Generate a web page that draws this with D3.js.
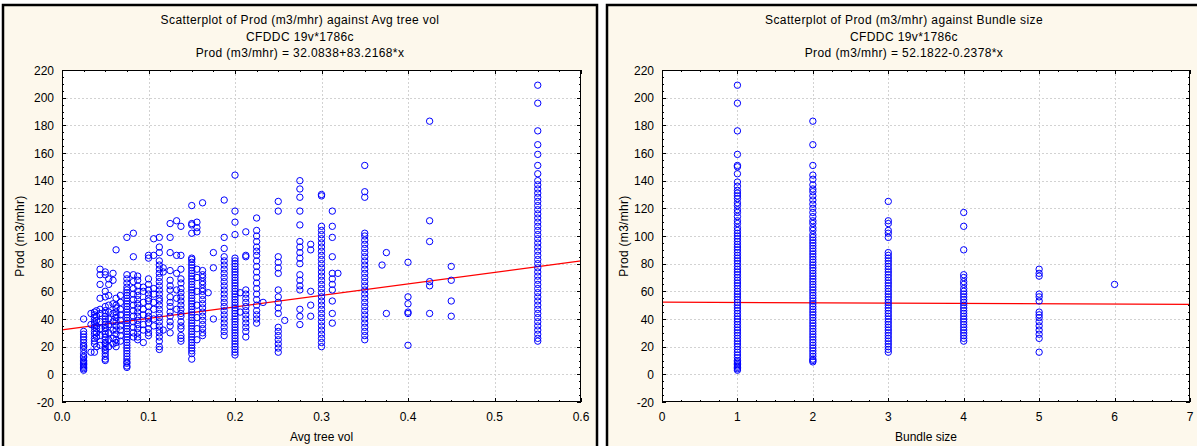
<!DOCTYPE html>
<html>
<head>
<meta charset="utf-8">
<script src="https://cdn.jsdelivr.net/npm/d3@7"></script>
<style>
  body { margin: 0; background: #fff; }
  svg text { font-family: "Liberation Sans", Arial, sans-serif; fill: #000; }
</style>
</head>
<body>
<svg id="chart" width="1197" height="446"></svg>
<script>
// ---------- Data ----------
const titleLines = ['CFDDC 19v*1786c'];
const yLabel = 'Prod (m3/mhr)';
const yTicks = [-20, 0, 20, 40, 60, 80, 100, 120, 140, 160, 180, 200, 220];

// Avg tree vol panel: one column of Prod values for each tree volume
const volX = [0.025, 0.0335, 0.0375, 0.04, 0.044, 0.05, 0.054, 0.059, 0.0625, 0.0675,
  0.075, 0.0825, 0.0875, 0.094, 0.1, 0.106, 0.1125, 0.117, 0.125, 0.1325, 0.1375,
  0.15, 0.156, 0.1625, 0.169, 0.175, 0.1875, 0.2, 0.206, 0.2125, 0.225, 0.2325,
  0.25, 0.2575, 0.275, 0.2875, 0.3, 0.3125, 0.319, 0.35, 0.37, 0.375, 0.4, 0.425, 0.45, 0.55];
const volProd = [
  [40, 31, 29, 27, 25, 23, 21, 20, 18, 15, 13, 12, 10, 9, 8, 7, 6, 5, 4, 3],
  [44, 36, 16],
  [45, 43, 41, 38, 36, 34, 31, 29, 26, 24, 22, 16],
  [46, 42, 39, 35, 33, 30, 27, 20],
  [76, 72, 65, 55, 47, 44, 38, 33, 28, 21],
  [74, 72, 60, 56, 49, 46, 44, 42, 40, 38, 36, 34, 33, 31, 29, 27, 25, 23, 22, 20, 18, 17, 15, 13, 11, 10],
  [69, 65, 57, 50, 45, 40, 36, 30, 25, 20],
  [73, 68, 51, 44, 38, 32, 26, 22],
  [90, 55, 50, 48, 45, 43, 41, 38, 35, 32, 29, 25, 23, 20],
  [57, 52, 47, 43, 39, 35, 32, 28, 24],
  [99, 72, 69, 66, 63, 61, 59, 57, 55, 53, 51, 49, 47, 45, 43, 41, 39, 37, 35, 33, 31, 29, 27, 25, 23, 21, 19, 17, 15, 13, 11, 9, 8, 6, 5],
  [102, 85, 72, 67, 62, 58, 54, 50, 46, 42, 38, 34, 30, 27],
  [71, 68, 64, 60, 57, 54, 51, 48, 45, 42, 39, 36, 33, 30, 27, 25],
  [63, 60, 52, 47, 43, 36, 32, 23],
  [86, 84, 69, 65, 61, 58, 55, 53, 49, 45, 42, 40, 37, 33, 30, 28],
  [98, 86, 62, 58, 52, 47, 40, 35],
  [99, 92, 88, 82, 79, 76, 73, 70, 67, 64, 61, 58, 55, 53, 50, 47, 44, 41, 38, 35, 32, 30, 27, 24, 20, 18],
  [77, 74, 32],
  [109, 99, 88, 75, 68, 64, 61, 56, 52, 49, 45, 42, 38, 35, 30],
  [111, 86, 73, 61, 55, 47],
  [107, 86, 76, 69, 66, 62, 59, 56, 53, 50, 47, 44, 42, 38, 35, 33, 28, 26, 24],
  [122, 109, 108, 102, 84, 83, 81, 79, 77, 75, 73, 71, 69, 67, 65, 63, 61, 59, 57, 55, 53, 51, 49, 47, 45, 43, 41, 39, 37, 35, 33, 31, 29, 27, 25, 23, 21, 19, 17, 15, 11],
  [110, 106, 103, 76, 70, 60, 50, 41, 33, 25],
  [124, 75, 72, 70, 67, 65, 62, 60, 57, 54, 51, 48, 45, 42, 39, 36, 33, 30, 28],
  [59],
  [88, 77, 40],
  [126, 99, 91, 85, 82, 79, 76, 73, 70, 67, 64, 61, 58, 55, 52, 49, 46, 43, 40, 37, 34, 31, 28],
  [144, 118, 110, 101, 84, 82, 80, 78, 76, 74, 72, 70, 68, 66, 64, 62, 60, 58, 56, 54, 52, 50, 48, 46, 44, 42, 40, 38, 36, 34, 32, 30, 28, 26, 24, 22, 20, 18, 16, 14],
  [59, 45],
  [103, 86, 85, 61, 58, 55, 52, 49, 46, 43, 40, 37, 34, 31, 27],
  [113, 104, 100, 96, 92, 89, 86, 82, 78, 74, 70, 66, 62, 58, 54, 50, 46, 43, 40, 37],
  [52],
  [125, 118, 85, 81, 77, 73, 61, 56, 52, 48, 44, 34, 31, 28, 25, 22, 19, 16],
  [39],
  [140, 134, 128, 118, 108, 96, 92, 88, 84, 80, 72, 68, 64, 61, 47, 42, 36],
  [94, 90, 60, 50, 42],
  [130, 129, 107, 104, 101, 98, 95, 92, 89, 86, 83, 80, 77, 74, 71, 68, 65, 62, 59, 56, 53, 50, 47, 44, 41, 38, 35, 32, 29, 26, 23, 20],
  [118, 107, 99, 85, 73, 69, 65, 61, 53, 44, 37],
  [73],
  [151, 132, 128, 102, 100, 97, 94, 91, 88, 85, 82, 79, 76, 73, 70, 67, 64, 61, 58, 55, 52, 49, 46, 43, 40, 37, 34, 31, 28, 25],
  [79],
  [88, 44],
  [81, 56, 51, 45, 44, 21],
  [183, 111, 96, 67, 64, 44],
  [78, 68, 53, 42],
  [209, 196, 176, 166, 159, 151, 145, 140, 137, 134, 131, 128, 125, 122, 119, 116, 113, 110, 107, 104, 101, 98, 95, 92, 89, 86, 83, 80, 77, 74, 71, 68, 65, 62, 59, 56, 53, 50, 47, 44, 41, 38, 35, 32, 29, 26, 24]
];

// Bundle size panel
const bundleX = [1, 2, 3, 4, 5, 6];
const bundleProd = [
  [209, 196, 176, 159, 151, 150, 145, 139, 136, 133, 131, 129, 127, 124, 122, 119, 117, 114, 111, 109, 106, 104, 102, 100, 98, 96, 94, 92, 90, 88, 86, 84, 82, 80, 78, 76, 74, 72, 70, 68, 66, 64, 62, 60, 58, 56, 54, 52, 50, 48, 46, 44, 42, 40, 38, 36, 34, 32, 30, 28, 26, 24, 22, 20, 18, 16, 14, 12, 10, 9, 8, 7, 6, 5, 4, 3],
  [183, 166, 151, 144, 141, 137, 134, 132, 129, 126, 123, 120, 117, 114, 111, 109, 106, 104, 101, 99, 97, 95, 93, 91, 89, 87, 85, 83, 81, 79, 77, 75, 73, 71, 69, 67, 65, 63, 61, 59, 57, 55, 53, 51, 49, 47, 45, 43, 41, 39, 37, 35, 33, 31, 29, 27, 25, 23, 21, 19, 17, 15, 13, 11, 10, 9],
  [125, 111, 109, 104, 102, 99, 88, 86, 84, 82, 80, 78, 76, 74, 72, 70, 68, 66, 64, 62, 60, 58, 56, 54, 52, 50, 48, 46, 44, 42, 40, 38, 36, 34, 32, 30, 28, 26, 24, 22, 20, 18, 16],
  [117, 107, 90, 72, 70, 67, 65, 62, 60, 58, 56, 54, 52, 50, 48, 46, 44, 42, 40, 38, 36, 34, 32, 30, 28, 26, 24],
  [76, 73, 71, 58, 56, 53, 45, 43, 41, 38, 35, 32, 29, 26, 16],
  [65]
];

// fitted lines: intercept, slope
const fitVol = [32.0838, 83.2168];
const fitBundle = [52.1822, -0.2378];

const panels = [
  {
    frameX: 3, plotX0: 62, plotX1: 581,
    title: 'Scatterplot of Prod (m3/mhr) against Avg tree vol',
    fitText: 'Prod (m3/mhr) = 32.0838+83.2168*x',
    xLabel: 'Avg tree vol', domain: [0, 0.6], majorStep: 0.1, minorStep: 0.025,
    fmt: d3.format('.1f'), xs: volX, ys: volProd, fit: fitVol
  },
  {
    frameX: 607, plotX0: 662, plotX1: 1190,
    title: 'Scatterplot of Prod (m3/mhr) against Bundle size',
    fitText: 'Prod (m3/mhr) = 52.1822-0.2378*x',
    xLabel: 'Bundle size', domain: [0, 7], majorStep: 1, minorStep: 0.25,
    fmt: d3.format('d'), xs: bundleX, ys: bundleProd, fit: fitBundle
  }
];

// ---------- Drawing ----------
const svg = d3.select('#chart');
const plotTop = 70, plotBottom = 402;
const y = d3.scaleLinear().domain([-20, 220]).range([plotBottom, plotTop]);
const yMinor = d3.range(-20, 221, 5);

function drawPanel(p) {
  const g = svg.append('g');
  const midX = p.frameX + 297;

  g.append('rect')
    .attr('x', p.frameX).attr('y', 5)
    .attr('width', 594).attr('height', 460)
    .attr('fill', '#fdf8ec')
    .attr('stroke', '#000').attr('stroke-width', 2.5);

  [p.title, titleLines[0], p.fitText].forEach((t, i) => {
    g.append('text')
      .attr('x', midX).attr('y', 24 + i * 16.5)
      .attr('text-anchor', 'middle')
      .style('font-size', '12px')
      .style('letter-spacing', '0.4px')
      .text(t);
  });

  const x = d3.scaleLinear().domain(p.domain).range([p.plotX0, p.plotX1]);
  const w = p.plotX1 - p.plotX0;

  g.append('rect')
    .attr('x', p.plotX0).attr('y', plotTop)
    .attr('width', w).attr('height', plotBottom - plotTop)
    .attr('fill', '#fff');

  const nMajor = Math.round((p.domain[1] - p.domain[0]) / p.majorStep);
  const xMajor = d3.range(nMajor + 1).map(i => p.domain[0] + i * p.majorStep);
  const nMinor = Math.round((p.domain[1] - p.domain[0]) / p.minorStep);
  const xMinor = d3.range(nMinor + 1).map(i => p.domain[0] + i * p.minorStep);

  // grid
  const grid = g.append('g').attr('stroke', '#d2d2d2').attr('stroke-dasharray', '2,2').attr('stroke-width', 1);
  xMajor.slice(1, -1).forEach(v => {
    grid.append('line').attr('x1', Math.round(x(v)) + 0.5).attr('x2', Math.round(x(v)) + 0.5)
      .attr('y1', plotTop).attr('y2', plotBottom);
  });
  yTicks.slice(1, -1).forEach(v => {
    grid.append('line').attr('y1', Math.round(y(v)) + 0.5).attr('y2', Math.round(y(v)) + 0.5)
      .attr('x1', p.plotX0).attr('x2', p.plotX1);
  });

  // regression line
  g.append('line')
    .attr('x1', x(p.domain[0])).attr('y1', y(p.fit[0] + p.fit[1] * p.domain[0]))
    .attr('x2', x(p.domain[1])).attr('y2', y(p.fit[0] + p.fit[1] * p.domain[1]))
    .attr('stroke', '#ff0000').attr('stroke-width', 1.2);

  // points
  const pts = [];
  p.xs.forEach((xv, i) => p.ys[i].forEach(yv => pts.push([xv, yv])));
  g.append('g').selectAll('circle')
    .data(pts)
    .join('circle')
    .attr('cx', d => x(d[0]))
    .attr('cy', d => y(d[1]))
    .attr('r', 3.2)
    .attr('fill', 'none')
    .attr('stroke', '#0000ff')
    .attr('stroke-width', 1);

  // plot border
  g.append('rect')
    .attr('x', p.plotX0 + 0.5).attr('y', plotTop + 0.5)
    .attr('width', w - 1).attr('height', plotBottom - plotTop - 1)
    .attr('fill', 'none').attr('stroke', '#000').attr('stroke-width', 1);

  // ticks, inward on every side
  const ticks = g.append('g').attr('stroke', '#000').attr('stroke-width', 1);
  xMinor.forEach(v => {
    const major = xMajor.some(m => Math.abs(m - v) < 1e-9);
    const len = major ? 4 : 2;
    const px = Math.round(x(v)) + 0.5;
    ticks.append('line').attr('x1', px).attr('x2', px).attr('y1', plotBottom).attr('y2', plotBottom - len);
    ticks.append('line').attr('x1', px).attr('x2', px).attr('y1', plotTop).attr('y2', plotTop + len);
  });
  yMinor.forEach(v => {
    const len = v % 20 === 0 ? 4 : 2;
    const py = Math.round(y(v)) + 0.5;
    ticks.append('line').attr('y1', py).attr('y2', py).attr('x1', p.plotX0).attr('x2', p.plotX0 + len);
    ticks.append('line').attr('y1', py).attr('y2', py).attr('x1', p.plotX1).attr('x2', p.plotX1 - len);
  });

  // tick labels
  yTicks.forEach(v => {
    g.append('text')
      .attr('x', p.plotX0 - 8).attr('y', y(v) + 4.5)
      .attr('text-anchor', 'end')
      .style('font-size', '12px')
      .text(v);
  });
  xMajor.forEach(v => {
    g.append('text')
      .attr('x', x(v)).attr('y', 421)
      .attr('text-anchor', 'middle')
      .style('font-size', '12px')
      .text(p.fmt(v));
  });

  // axis titles
  g.append('text')
    .attr('x', (p.plotX0 + p.plotX1) / 2).attr('y', 441)
    .attr('text-anchor', 'middle')
    .style('font-size', '12px')
    .text(p.xLabel);
  g.append('text')
    .attr('transform', `translate(${p.frameX + 21},${(plotTop + plotBottom) / 2}) rotate(-90)`)
    .attr('text-anchor', 'middle')
    .style('font-size', '12px')
    .style('letter-spacing', '0.3px')
    .text(yLabel);
}

panels.forEach(drawPanel);
</script>
</body>
</html>
